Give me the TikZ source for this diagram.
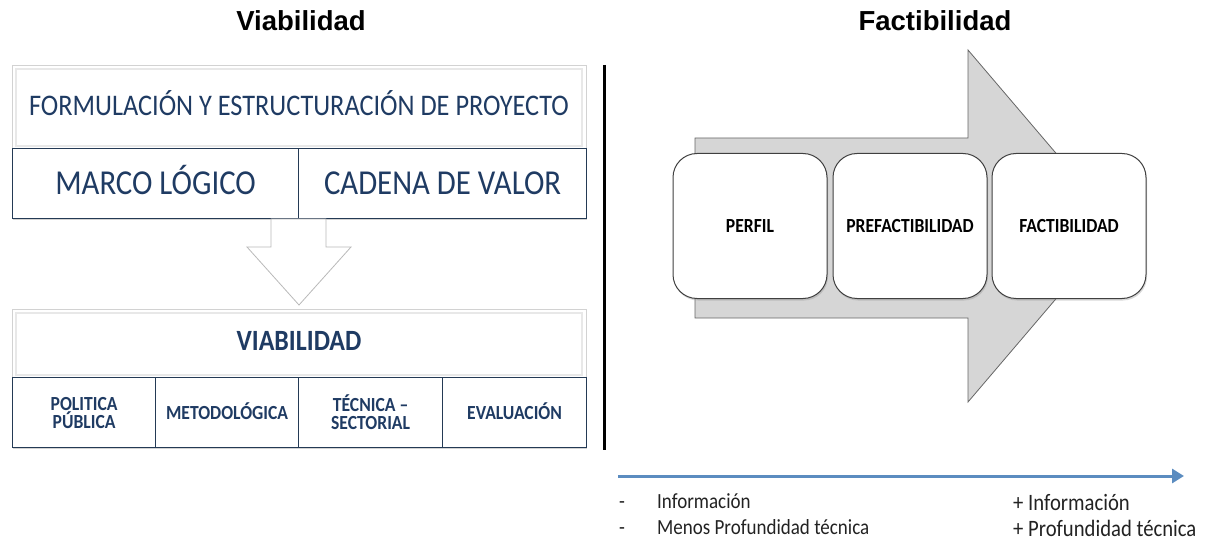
\documentclass[tikz,border=0pt]{standalone}
\usepackage{fontspec}
\setmainfont{Carlito}[FakeStretch=0.88]
\newfontfamily\titlefont{Liberation Sans}
\usetikzlibrary{arrows.meta,shadows}
\definecolor{navy}{HTML}{1F3B63}
\definecolor{cellline}{HTML}{243A55}
\definecolor{arrowgray}{HTML}{D6D6D6}
\definecolor{lineblue}{HTML}{5B8CC0}
\definecolor{txtgray}{HTML}{222222}
\tikzset{
  panel/.style={draw=gray!35, fill=white, line width=0.8pt, drop shadow={shadow xshift=1pt, shadow yshift=-2pt, opacity=0.35}},
  cell/.style={draw=cellline, fill=white, line width=1.2pt, text=navy, align=center, inner sep=0pt},
  oneline/.style={text height=#1, text depth=0pt},
  bevel/.style={draw=gray!18, line width=2.5pt},
  small/.style={font=\fontsize{20}{18}\selectfont\bfseries},
  stage/.style={draw=black!75, fill=white, line width=1pt, rounded corners=24pt, minimum width=154, minimum height=145, font=\fontsize{20}{22}\selectfont\bfseries, text height=12.9pt, text depth=0pt, drop shadow={shadow xshift=1pt, shadow yshift=-2pt, opacity=0.3}},
  title/.style={font=\titlefont\fontsize{27.5}{30}\selectfont\bfseries},
  note/.style={anchor=west, text=txtgray, inner sep=0pt},
}
\begin{document}
\begin{tikzpicture}[x=1pt,y=-1pt]
\useasboundingbox (0,0) rectangle (1208,540);
% titles
\node[title] (t1) at (301,21) {Viabilidad};
\node[title] (t2) at (935,21) {Factibilidad};
% ---------- upper left panel
\node[panel, minimum width=574, minimum height=153, anchor=north west] (up) at (12,65) {};
\draw[bevel] (16,69) rectangle (582,146);
\node[text=navy, font=\fontsize{29.9}{32}\selectfont, oneline=19.2pt] (form) at (299,106) {FORMULACIÓN Y ESTRUCTURACIÓN DE PROYECTO};
\node[cell, oneline=22.5pt, minimum width=286, minimum height=70, anchor=north west, font=\fontsize{35}{36}\selectfont] (ml) at (12,148) {MARCO LÓGICO};
\node[cell, oneline=22.5pt, minimum width=288, minimum height=70, anchor=north west, font=\fontsize{35}{36}\selectfont] (cv) at (298,148) {CADENA DE VALOR};
% down arrow
\draw[fill=white, draw=gray!55, line width=0.8pt] (271,219)--(326,219)--(326,247)--(351,247)--(299,305)--(247,247)--(271,247)--cycle;
% ---------- lower left panel
\node[panel, minimum width=574, minimum height=138, anchor=north west] (low) at (12,309) {};
\draw[bevel] (16,313) rectangle (582,375);
\node[text=navy, font=\fontsize{29.4}{30}\selectfont\bfseries, oneline=18.9pt] (via) at (299,341) {VIABILIDAD};
\node[cell, small, minimum width=143, minimum height=70, anchor=north west] (pp) at (12,377) {POLITICA\\PÚBLICA};
\node[cell, small, oneline=12.9pt, minimum width=143, minimum height=70, anchor=north west] (me) at (155,377) {METODOLÓGICA};
\node[cell, small, minimum width=144, minimum height=70, anchor=north west] (te) at (298,377) {TÉCNICA –\\SECTORIAL};
\node[cell, small, oneline=12.9pt, minimum width=144, minimum height=70, anchor=north west] (ev) at (442,377) {EVALUACIÓN};
% divider
\draw[line width=3pt, black] (604,65) -- (604,450);
% ---------- big grey arrow
\draw[fill=arrowgray, draw=black!60, line width=0.8pt] (695,138)--(968,138)--(968,50)--(1118,226)--(968,402)--(968,318)--(695,318)--cycle;
\node[stage] (p1) at (750,226) {PERFIL};
\node[stage] (p2) at (910,226) {PREFACTIBILIDAD};
\node[stage] (p3) at (1069,226) {FACTIBILIDAD};
% ---------- blue arrow and notes
\coordinate (bs) at (618,476);
\coordinate (be) at (1184,476);
\draw[line width=3pt, lineblue, -{Triangle[length=12pt,width=14pt]}] (bs) -- (be);
\node[note, font=\fontsize{21.6}{24}\selectfont] (d1) at (619,505) {-};
\node[note, font=\fontsize{21.6}{24}\selectfont] (n1) at (657,501) {Información};
\node[note, font=\fontsize{21.6}{24}\selectfont] (d2) at (619,531) {-};
\node[note, font=\fontsize{21.6}{24}\selectfont] (n2) at (657,527) {Menos Profundidad técnica};
\node[note, font=\fontsize{23.5}{26}\selectfont] (r1) at (1013,503) {+ Información};
\node[note, font=\fontsize{23.5}{26}\selectfont] (r2) at (1013,528) {+ Profundidad técnica};
\end{tikzpicture}
\end{document}
